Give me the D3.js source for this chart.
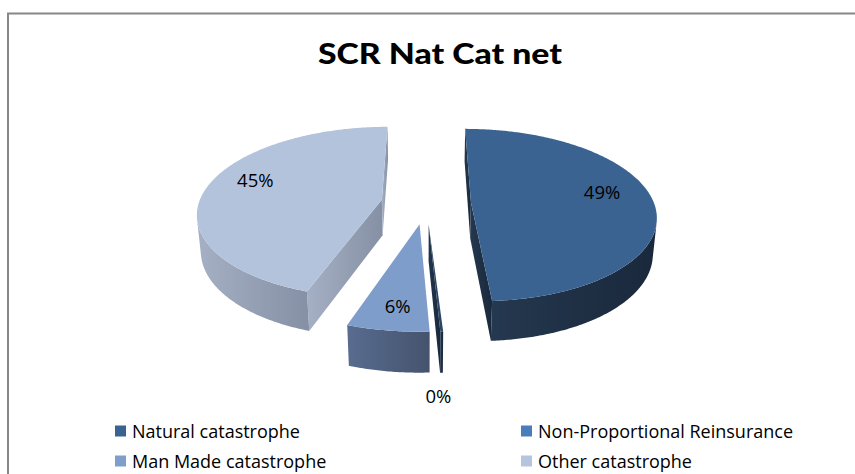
<!DOCTYPE html>
<html><head><meta charset="utf-8">
<script src="https://cdn.jsdelivr.net/npm/d3@7"></script>
<style>html,body{margin:0;padding:0;background:#fff;}svg{display:block;}</style>
</head><body>
<svg id="chart" width="855" height="474"></svg>
<script>
// ---- data ----
const title = "SCR Nat Cat net";
const categories = ["Natural catastrophe", "Non-Proportional Reinsurance", "Man Made catastrophe", "Other catastrophe"];
const values = [49.0, 0.2, 6.0, 44.8];

// ---- styles ----
const topColors  = ["#3A6391", "#2A4566", "#7E9DCB", "#B3C3DC"];
const sideLight  = ["#24384F", "#22344C", "#586C90", "#A5B0C5"];
const sideDark   = ["#1A283B", "#1A283B", "#45536D", "#8590A5"];
const legendColors = ["#3A6391", "#4A7EBB", "#7F9ECC", "#B6C5DE"];

const svg = d3.select("#chart");
const defs = svg.append("defs");

// chart frame
svg.append("rect").attr("x", 8).attr("y", 13.5).attr("width", 900).attr("height", 500)
  .attr("fill", "none").attr("stroke", "#878787").attr("stroke-width", 2);

svg.append("text").attr("x", 440).attr("y", 63.5)
  .attr("text-anchor", "middle").attr("textLength", 244).attr("lengthAdjust", "spacingAndGlyphs")
  .style("font-family", "Lato, 'Open Sans', sans-serif").style("font-weight", "900")
  .style("font-size", "29px").attr("fill", "#000").text(title);

// ---- 3D pie geometry ----
const cx = 426, cy = 203, R = 183, phi = 27.5 * Math.PI / 180, D = 1100, explode = 45, thick = 41;
const sinP = Math.sin(phi), cosP = Math.cos(phi);
const cam = [0, D * sinP, -D * cosP];
function proj(x, y, z) {
  const u = x, v = z * sinP + y * cosP, w = z * cosP - y * sinP;
  const s = D / (D + w);
  return [cx + u * s, cy - v * s];
}
const pie = d3.pie().sort(null).value(d => d);
const arcs = pie(values);

function sliceGeo(a) {
  const mid = (a.startAngle + a.endAngle) / 2;
  const ox = explode * Math.sin(mid), oz = explode * Math.cos(mid);
  const P = (ang, r, y) => proj(ox + r * Math.sin(ang), y, oz + r * Math.cos(ang));
  return {mid, ox, oz, P};
}
const line = d3.line();
const closed = pts => line(pts) + "Z";

// order slices by depth (far first)
const order = arcs.map((a, i) => i).sort((i, j) => sliceGeo(arcs[j]).oz - sliceGeo(arcs[i]).oz);

const pieG = svg.append("g");
let gid = 0;
function gradFill(pts, c1, c2) {
  const xs = pts.map(p => p[0]);
  const id = "g" + (gid++);
  const g = defs.append("linearGradient").attr("id", id).attr("gradientUnits", "userSpaceOnUse")
    .attr("x1", d3.min(xs)).attr("x2", d3.max(xs)).attr("y1", 0).attr("y2", 0);
  g.append("stop").attr("offset", 0).attr("stop-color", c1);
  g.append("stop").attr("offset", 1).attr("stop-color", c2);
  return "url(#" + id + ")";
}

order.forEach(i => {
  const a = arcs[i];
  const {ox, oz, P} = sliceGeo(a);
  const a0 = a.startAngle, a1 = a.endAngle;
  const g = pieG.append("g");
  // radial cut faces (back-face culled)
  const faces = [
    {ang: a0, n: [-Math.cos(a0), Math.sin(a0)]},
    {ang: a1, n: [Math.cos(a1), -Math.sin(a1)]}
  ];
  faces.forEach(f => {
    const dot = (ox - cam[0]) * f.n[0] + (oz - cam[2]) * f.n[1];
    if (dot < 0) {
      const pts = [P(f.ang, 0, 0), P(f.ang, R, 0), P(f.ang, R, -thick), P(f.ang, 0, -thick)];
      g.append("path").attr("d", closed(pts)).attr("fill", gradFill(pts, sideLight[i], sideDark[i]));
    }
  });
  // outer curved side
  const N = Math.max(2, Math.ceil((a1 - a0) / 0.01));
  let run = [];
  const runs = [];
  for (let k = 0; k <= N; k++) {
    const ang = a0 + (a1 - a0) * k / N;
    const px = ox + R * Math.sin(ang), pz = oz + R * Math.cos(ang);
    const dot = (px - cam[0]) * Math.sin(ang) + (pz - cam[2]) * Math.cos(ang);
    if (dot < 0) run.push(ang); else if (run.length) { runs.push(run); run = []; }
  }
  if (run.length) runs.push(run);
  runs.forEach(r => {
    if (r.length < 2) return;
    const pts = r.map(ang => P(ang, R, 0)).concat(r.map(ang => P(ang, R, -thick)).reverse());
    g.append("path").attr("d", closed(pts)).attr("fill", gradFill(pts, sideLight[i], sideDark[i]));
  });
  // top face
  const tp = [P(0, 0, 0)];
  for (let k = 0; k <= N; k++) tp.push(P(a0 + (a1 - a0) * k / N, R, 0));
  g.append("path").attr("d", closed(tp)).attr("fill", topColors[i]);
});

// ---- data labels ----
const fmt = d3.format(".0%");
const total = d3.sum(values);
arcs.forEach((a, i) => {
  const {mid, P} = sliceGeo(a);
  const small = values[i] / total < 0.01;
  const p = small ? P(mid, R * 1.06, -thick) : P(mid, R * 0.71, 0);
  const dy = small ? 15 : (-9 * Math.abs(Math.sin(mid)) - 11 * Math.cos(mid));
  svg.append("text").attr("x", p[0] - (small ? 4 : 0) + (small ? 0 : 2 * Math.sin(mid))).attr("y", p[1] + dy)
    .attr("text-anchor", "middle").attr("dominant-baseline", "central")
    .style("font-family", "'Open Sans', sans-serif").style("font-size", "18.5px")
    .attr("fill", "#000").text(fmt(values[i] / total));
});

// ---- legend ----
const legX = [115, 521], legY = [431, 461];
categories.forEach((c, i) => {
  const x = legX[i % 2], y = legY[Math.floor(i / 2)];
  svg.append("rect").attr("x", x).attr("y", y - 5.5).attr("width", 11).attr("height", 11).attr("fill", legendColors[i]);
  svg.append("text").attr("x", x + 17).attr("y", y).attr("dominant-baseline", "central")
    .style("font-family", "'Open Sans', sans-serif").style("font-size", "18px")
    .attr("fill", "#000").text(c);
});
</script>
</body></html>
